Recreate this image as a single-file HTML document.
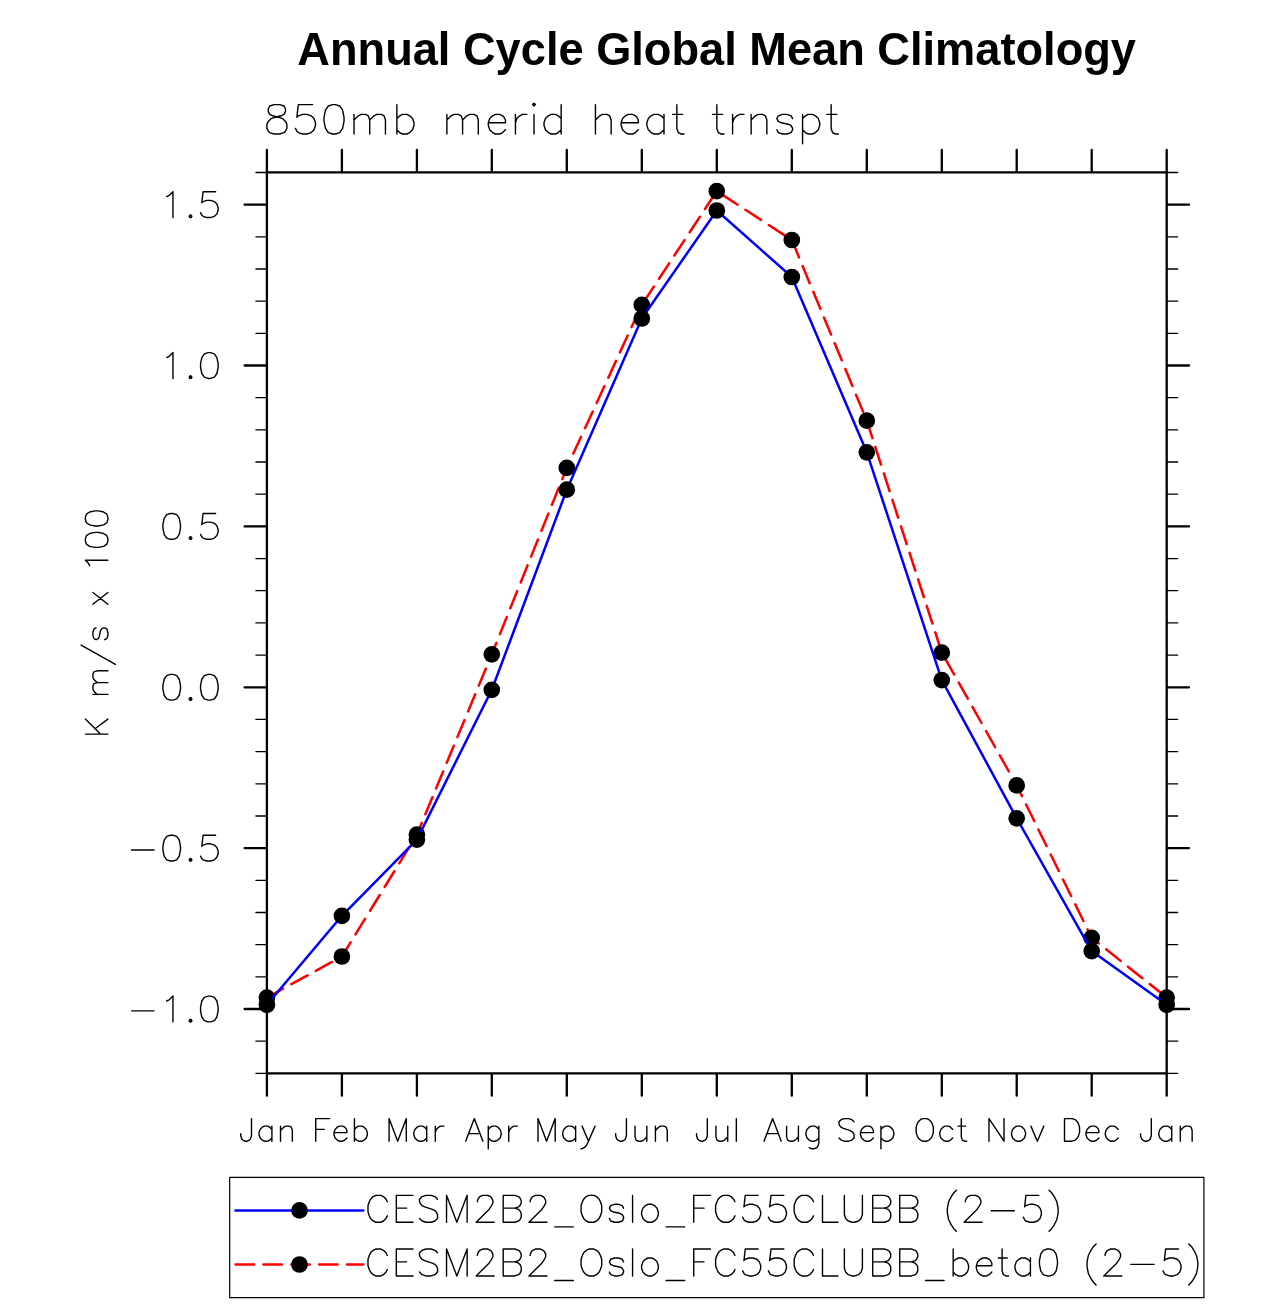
<!DOCTYPE html>
<html><head><meta charset="utf-8"><title>Annual Cycle Global Mean Climatology</title>
<style>html,body{margin:0;padding:0;background:#fff}body{width:1285px;height:1304px;overflow:hidden}svg{display:block;will-change:transform}.t{font-family:"Liberation Sans",sans-serif;font-weight:bold}</style></head><body>
<svg width="1285" height="1304" viewBox="0 0 1285 1304">
<rect width="1285" height="1304" fill="#fff"/>
<text class="t" x="716.65" y="0" font-size="45.2" text-anchor="middle" fill="#000" transform="translate(0 64.8) scale(1 1.03)">Annual Cycle Global Mean Climatology</text>
<path d="M274.03 104.60 L269.74 106.00 L268.31 108.80 L268.31 111.60 L269.74 114.40 L272.60 115.80 L278.31 117.20 L282.60 118.60 L285.46 121.40 L286.88 124.20 L286.88 128.40 L285.46 131.20 L284.03 132.60 L279.74 134.00 L274.03 134.00 L269.74 132.60 L268.31 131.20 L266.89 128.40 L266.89 124.20 L268.31 121.40 L271.17 118.60 L275.46 117.20 L281.17 115.80 L284.03 114.40 L285.46 111.60 L285.46 108.80 L284.03 106.00 L279.74 104.60 L274.03 104.60 M312.60 104.60 L298.31 104.60 L296.88 117.20 L298.31 115.80 L302.60 114.40 L306.88 114.40 L311.17 115.80 L314.03 118.60 L315.45 122.80 L315.45 125.60 L314.03 129.80 L311.17 132.60 L306.88 134.00 L302.60 134.00 L298.31 132.60 L296.88 131.20 L295.46 128.40 M332.60 104.60 L328.31 106.00 L325.45 110.20 L324.03 117.20 L324.03 121.40 L325.45 128.40 L328.31 132.60 L332.60 134.00 L335.45 134.00 L339.74 132.60 L342.60 128.40 L344.02 121.40 L344.02 117.20 L342.60 110.20 L339.74 106.00 L335.45 104.60 L332.60 104.60 M354.02 114.40 L354.02 134.00 M354.02 120.00 L358.31 115.80 L361.17 114.40 L365.45 114.40 L368.31 115.80 L369.74 120.00 L369.74 134.00 M369.74 120.00 L374.02 115.80 L376.88 114.40 L381.17 114.40 L384.02 115.80 L385.45 120.00 L385.45 134.00 M396.88 104.60 L396.88 134.00 M396.88 118.60 L399.74 115.80 L402.59 114.40 L406.88 114.40 L409.74 115.80 L412.59 118.60 L414.02 122.80 L414.02 125.60 L412.59 129.80 L409.74 132.60 L406.88 134.00 L402.59 134.00 L399.74 132.60 L396.88 129.80 M446.88 114.40 L446.88 134.00 M446.88 120.00 L451.16 115.80 L454.02 114.40 L458.30 114.40 L461.16 115.80 L462.59 120.00 L462.59 134.00 M462.59 120.00 L466.88 115.80 L469.73 114.40 L474.02 114.40 L476.88 115.80 L478.30 120.00 L478.30 134.00 M488.30 122.80 L505.45 122.80 L505.45 120.00 L504.02 117.20 L502.59 115.80 L499.73 114.40 L495.45 114.40 L492.59 115.80 L489.73 118.60 L488.30 122.80 L488.30 125.60 L489.73 129.80 L492.59 132.60 L495.45 134.00 L499.73 134.00 L502.59 132.60 L505.45 129.80 M515.44 114.40 L515.44 134.00 M515.44 122.80 L516.87 118.60 L519.73 115.80 L522.59 114.40 L526.87 114.40 M532.59 104.60 L534.02 106.00 L535.44 104.60 L534.02 103.20 L532.59 104.60 M534.02 114.40 L534.02 134.00 M561.16 104.60 L561.16 134.00 M561.16 118.60 L558.30 115.80 L555.44 114.40 L551.16 114.40 L548.30 115.80 L545.44 118.60 L544.01 122.80 L544.01 125.60 L545.44 129.80 L548.30 132.60 L551.16 134.00 L555.44 134.00 L558.30 132.60 L561.16 129.80 M595.44 104.60 L595.44 134.00 M595.44 120.00 L599.73 115.80 L602.58 114.40 L606.87 114.40 L609.73 115.80 L611.15 120.00 L611.15 134.00 M621.15 122.80 L638.30 122.80 L638.30 120.00 L636.87 117.20 L635.44 115.80 L632.58 114.40 L628.30 114.40 L625.44 115.80 L622.58 118.60 L621.15 122.80 L621.15 125.60 L622.58 129.80 L625.44 132.60 L628.30 134.00 L632.58 134.00 L635.44 132.60 L638.30 129.80 M664.01 114.40 L664.01 134.00 M664.01 118.60 L661.15 115.80 L658.29 114.40 L654.01 114.40 L651.15 115.80 L648.29 118.60 L646.87 122.80 L646.87 125.60 L648.29 129.80 L651.15 132.60 L654.01 134.00 L658.29 134.00 L661.15 132.60 L664.01 129.80 M676.86 104.60 L676.86 128.40 L678.29 132.60 L681.15 134.00 L684.01 134.00 M672.58 114.40 L682.58 114.40 M716.86 104.60 L716.86 128.40 L718.29 132.60 L721.15 134.00 L724.01 134.00 M712.58 114.40 L722.58 114.40 M732.58 114.40 L732.58 134.00 M732.58 122.80 L734.00 118.60 L736.86 115.80 L739.72 114.40 L744.00 114.40 M751.15 114.40 L751.15 134.00 M751.15 120.00 L755.43 115.80 L758.29 114.40 L762.58 114.40 L765.43 115.80 L766.86 120.00 L766.86 134.00 M792.57 118.60 L791.14 115.80 L786.86 114.40 L782.57 114.40 L778.29 115.80 L776.86 118.60 L778.29 121.40 L781.15 122.80 L788.29 124.20 L791.14 125.60 L792.57 128.40 L792.57 129.80 L791.14 132.60 L786.86 134.00 L782.57 134.00 L778.29 132.60 L776.86 129.80 M802.57 114.40 L802.57 143.80 M802.57 118.60 L805.43 115.80 L808.29 114.40 L812.57 114.40 L815.43 115.80 L818.29 118.60 L819.71 122.80 L819.71 125.60 L818.29 129.80 L815.43 132.60 L812.57 134.00 L808.29 134.00 L805.43 132.60 L802.57 129.80 M831.14 104.60 L831.14 128.40 L832.57 132.60 L835.43 134.00 L838.29 134.00 M826.86 114.40 L836.86 114.40" fill="none" stroke="#000" stroke-width="1.4" stroke-linecap="round" stroke-linejoin="round"/>
<circle cx="190.53" cy="216.34" r="1.19" fill="none" stroke="#000" stroke-width="1.35"/>
<path d="M166.68 196.66 L169.19 195.43 L172.96 191.74 L172.96 217.56 M190.53 215.10 L189.27 216.34 L190.53 217.56 L191.78 216.34 L190.53 215.10 M215.62 191.74 L203.08 191.74 L201.82 202.81 L203.08 201.57 L206.84 200.34 L210.61 200.34 L214.37 201.57 L216.88 204.03 L218.14 207.72 L218.14 210.19 L216.88 213.88 L214.37 216.34 L210.61 217.56 L206.84 217.56 L203.08 216.34 L201.82 215.10 L200.56 212.65" fill="none" stroke="#000" stroke-width="1.4" stroke-linecap="round" stroke-linejoin="round"/>
<circle cx="190.53" cy="377.20" r="1.19" fill="none" stroke="#000" stroke-width="1.35"/>
<path d="M166.68 357.52 L169.19 356.30 L172.96 352.61 L172.96 378.44 M190.53 375.98 L189.27 377.20 L190.53 378.44 L191.78 377.20 L190.53 375.98 M208.09 352.61 L204.33 353.83 L201.82 357.52 L200.56 363.68 L200.56 367.37 L201.82 373.51 L204.33 377.20 L208.09 378.44 L210.61 378.44 L214.37 377.20 L216.88 373.51 L218.14 367.37 L218.14 363.68 L216.88 357.52 L214.37 353.83 L210.61 352.61 L208.09 352.61" fill="none" stroke="#000" stroke-width="1.4" stroke-linecap="round" stroke-linejoin="round"/>
<circle cx="190.53" cy="538.07" r="1.19" fill="none" stroke="#000" stroke-width="1.35"/>
<path d="M170.44 513.47 L166.68 514.70 L164.17 518.39 L162.91 524.54 L162.91 528.23 L164.17 534.38 L166.68 538.07 L170.44 539.30 L172.96 539.30 L176.72 538.07 L179.23 534.38 L180.49 528.23 L180.49 524.54 L179.23 518.39 L176.72 514.70 L172.96 513.47 L170.44 513.47 M190.53 536.84 L189.27 538.07 L190.53 539.30 L191.78 538.07 L190.53 536.84 M215.62 513.47 L203.08 513.47 L201.82 524.54 L203.08 523.31 L206.84 522.08 L210.61 522.08 L214.37 523.31 L216.88 525.77 L218.14 529.46 L218.14 531.92 L216.88 535.61 L214.37 538.07 L210.61 539.30 L206.84 539.30 L203.08 538.07 L201.82 536.84 L200.56 534.38" fill="none" stroke="#000" stroke-width="1.4" stroke-linecap="round" stroke-linejoin="round"/>
<circle cx="190.53" cy="698.94" r="1.19" fill="none" stroke="#000" stroke-width="1.35"/>
<path d="M170.44 674.34 L166.68 675.57 L164.17 679.26 L162.91 685.41 L162.91 689.10 L164.17 695.25 L166.68 698.94 L170.44 700.17 L172.96 700.17 L176.72 698.94 L179.23 695.25 L180.49 689.10 L180.49 685.41 L179.23 679.26 L176.72 675.57 L172.96 674.34 L170.44 674.34 M190.53 697.71 L189.27 698.94 L190.53 700.17 L191.78 698.94 L190.53 697.71 M208.09 674.34 L204.33 675.57 L201.82 679.26 L200.56 685.41 L200.56 689.10 L201.82 695.25 L204.33 698.94 L208.09 700.17 L210.61 700.17 L214.37 698.94 L216.88 695.25 L218.14 689.10 L218.14 685.41 L216.88 679.26 L214.37 675.57 L210.61 674.34 L208.09 674.34" fill="none" stroke="#000" stroke-width="1.4" stroke-linecap="round" stroke-linejoin="round"/>
<circle cx="190.53" cy="859.81" r="1.19" fill="none" stroke="#000" stroke-width="1.35"/>
<path d="M131.54 849.97 L154.13 849.97 M170.44 835.21 L166.68 836.44 L164.17 840.13 L162.91 846.28 L162.91 849.97 L164.17 856.12 L166.68 859.81 L170.44 861.04 L172.96 861.04 L176.72 859.81 L179.23 856.12 L180.49 849.97 L180.49 846.28 L179.23 840.13 L176.72 836.44 L172.96 835.21 L170.44 835.21 M190.53 858.58 L189.27 859.81 L190.53 861.04 L191.78 859.81 L190.53 858.58 M215.62 835.21 L203.08 835.21 L201.82 846.28 L203.08 845.05 L206.84 843.82 L210.61 843.82 L214.37 845.05 L216.88 847.51 L218.14 851.20 L218.14 853.66 L216.88 857.35 L214.37 859.81 L210.61 861.04 L206.84 861.04 L203.08 859.81 L201.82 858.58 L200.56 856.12" fill="none" stroke="#000" stroke-width="1.4" stroke-linecap="round" stroke-linejoin="round"/>
<circle cx="190.53" cy="1020.68" r="1.19" fill="none" stroke="#000" stroke-width="1.35"/>
<path d="M131.54 1010.84 L154.13 1010.84 M166.68 1001.00 L169.19 999.77 L172.96 996.08 L172.96 1021.91 M190.53 1019.45 L189.27 1020.68 L190.53 1021.91 L191.78 1020.68 L190.53 1019.45 M208.09 996.08 L204.33 997.31 L201.82 1001.00 L200.56 1007.15 L200.56 1010.84 L201.82 1017.00 L204.33 1020.68 L208.09 1021.91 L210.61 1021.91 L214.37 1020.68 L216.88 1017.00 L218.14 1010.84 L218.14 1007.15 L216.88 1001.00 L214.37 997.31 L210.61 996.08 L208.09 996.08" fill="none" stroke="#000" stroke-width="1.4" stroke-linecap="round" stroke-linejoin="round"/>
<path d="M251.50 1118.62 L251.50 1135.83 L250.42 1139.05 L249.35 1140.12 L247.20 1141.20 L245.05 1141.20 L242.90 1140.12 L241.82 1139.05 L240.75 1135.83 L240.75 1133.67 M271.92 1126.15 L271.92 1141.20 M271.92 1129.38 L269.77 1127.23 L267.62 1126.15 L264.40 1126.15 L262.25 1127.23 L260.10 1129.38 L259.02 1132.60 L259.02 1134.75 L260.10 1137.98 L262.25 1140.12 L264.40 1141.20 L267.62 1141.20 L269.77 1140.12 L271.92 1137.98 M280.52 1126.15 L280.52 1141.20 M280.52 1130.45 L283.75 1127.23 L285.90 1126.15 L289.12 1126.15 L291.27 1127.23 L292.35 1130.45 L292.35 1141.20" fill="none" stroke="#000" stroke-width="1.4" stroke-linecap="round" stroke-linejoin="round"/>
<path d="M315.73 1118.62 L315.73 1141.20 M315.73 1118.62 L329.71 1118.62 M315.73 1129.38 L324.33 1129.38 M334.01 1132.60 L346.91 1132.60 L346.91 1130.45 L345.83 1128.30 L344.76 1127.23 L342.61 1126.15 L339.38 1126.15 L337.23 1127.23 L335.08 1129.38 L334.01 1132.60 L334.01 1134.75 L335.08 1137.98 L337.23 1140.12 L339.38 1141.20 L342.61 1141.20 L344.76 1140.12 L346.91 1137.98 M354.43 1118.62 L354.43 1141.20 M354.43 1129.38 L356.58 1127.23 L358.73 1126.15 L361.96 1126.15 L364.11 1127.23 L366.26 1129.38 L367.33 1132.60 L367.33 1134.75 L366.26 1137.98 L364.11 1140.12 L361.96 1141.20 L358.73 1141.20 L356.58 1140.12 L354.43 1137.98" fill="none" stroke="#000" stroke-width="1.4" stroke-linecap="round" stroke-linejoin="round"/>
<path d="M389.10 1118.62 L389.10 1141.20 M389.10 1118.62 L397.70 1141.20 M406.30 1118.62 L397.70 1141.20 M406.30 1118.62 L406.30 1141.20 M426.73 1126.15 L426.73 1141.20 M426.73 1129.38 L424.58 1127.23 L422.43 1126.15 L419.20 1126.15 L417.05 1127.23 L414.90 1129.38 L413.83 1132.60 L413.83 1134.75 L414.90 1137.98 L417.05 1140.12 L419.20 1141.20 L422.43 1141.20 L424.58 1140.12 L426.73 1137.98 M435.33 1126.15 L435.33 1141.20 M435.33 1132.60 L436.40 1129.38 L438.55 1127.23 L440.70 1126.15 L443.93 1126.15" fill="none" stroke="#000" stroke-width="1.4" stroke-linecap="round" stroke-linejoin="round"/>
<path d="M474.30 1118.62 L465.70 1141.20 M474.30 1118.62 L482.90 1141.20 M468.92 1133.67 L479.67 1133.67 M488.27 1126.15 L488.27 1148.73 M488.27 1129.38 L490.42 1127.23 L492.57 1126.15 L495.80 1126.15 L497.95 1127.23 L500.10 1129.38 L501.17 1132.60 L501.17 1134.75 L500.10 1137.98 L497.95 1140.12 L495.80 1141.20 L492.57 1141.20 L490.42 1140.12 L488.27 1137.98 M508.70 1126.15 L508.70 1141.20 M508.70 1132.60 L509.77 1129.38 L511.92 1127.23 L514.07 1126.15 L517.30 1126.15" fill="none" stroke="#000" stroke-width="1.4" stroke-linecap="round" stroke-linejoin="round"/>
<path d="M538.00 1118.62 L538.00 1141.20 M538.00 1118.62 L546.60 1141.20 M555.20 1118.62 L546.60 1141.20 M555.20 1118.62 L555.20 1141.20 M575.62 1126.15 L575.62 1141.20 M575.62 1129.38 L573.47 1127.23 L571.32 1126.15 L568.10 1126.15 L565.95 1127.23 L563.80 1129.38 L562.72 1132.60 L562.72 1134.75 L563.80 1137.98 L565.95 1140.12 L568.10 1141.20 L571.32 1141.20 L573.47 1140.12 L575.62 1137.98 M582.07 1126.15 L588.52 1141.20 M594.97 1126.15 L588.52 1141.20 L586.37 1145.50 L584.22 1147.65 L582.07 1148.73 L581.00 1148.73" fill="none" stroke="#000" stroke-width="1.4" stroke-linecap="round" stroke-linejoin="round"/>
<path d="M626.42 1118.62 L626.42 1135.83 L625.34 1139.05 L624.27 1140.12 L622.12 1141.20 L619.97 1141.20 L617.82 1140.12 L616.74 1139.05 L615.67 1135.83 L615.67 1133.67 M635.02 1126.15 L635.02 1136.90 L636.09 1140.12 L638.24 1141.20 L641.47 1141.20 L643.62 1140.12 L646.84 1136.90 M646.84 1126.15 L646.84 1141.20 M655.44 1126.15 L655.44 1141.20 M655.44 1130.45 L658.67 1127.23 L660.82 1126.15 L664.04 1126.15 L666.19 1127.23 L667.27 1130.45 L667.27 1141.20" fill="none" stroke="#000" stroke-width="1.4" stroke-linecap="round" stroke-linejoin="round"/>
<path d="M707.31 1118.62 L707.31 1135.83 L706.24 1139.05 L705.16 1140.12 L703.01 1141.20 L700.86 1141.20 L698.71 1140.12 L697.64 1139.05 L696.56 1135.83 L696.56 1133.67 M715.91 1126.15 L715.91 1136.90 L716.99 1140.12 L719.14 1141.20 L722.36 1141.20 L724.51 1140.12 L727.74 1136.90 M727.74 1126.15 L727.74 1141.20 M736.34 1118.62 L736.34 1141.20" fill="none" stroke="#000" stroke-width="1.4" stroke-linecap="round" stroke-linejoin="round"/>
<path d="M772.62 1118.62 L764.02 1141.20 M772.62 1118.62 L781.22 1141.20 M767.25 1133.67 L778.00 1133.67 M786.60 1126.15 L786.60 1136.90 L787.67 1140.12 L789.82 1141.20 L793.05 1141.20 L795.20 1140.12 L798.42 1136.90 M798.42 1126.15 L798.42 1141.20 M818.85 1126.15 L818.85 1143.35 L817.77 1146.58 L816.70 1147.65 L814.55 1148.73 L811.32 1148.73 L809.17 1147.65 M818.85 1129.38 L816.70 1127.23 L814.55 1126.15 L811.32 1126.15 L809.17 1127.23 L807.02 1129.38 L805.95 1132.60 L805.95 1134.75 L807.02 1137.98 L809.17 1140.12 L811.32 1141.20 L814.55 1141.20 L816.70 1140.12 L818.85 1137.98" fill="none" stroke="#000" stroke-width="1.4" stroke-linecap="round" stroke-linejoin="round"/>
<path d="M854.05 1121.85 L851.90 1119.70 L848.68 1118.62 L844.38 1118.62 L841.15 1119.70 L839.00 1121.85 L839.00 1124.00 L840.08 1126.15 L841.15 1127.23 L843.30 1128.30 L849.75 1130.45 L851.90 1131.53 L852.98 1132.60 L854.05 1134.75 L854.05 1137.98 L851.90 1140.12 L848.68 1141.20 L844.38 1141.20 L841.15 1140.12 L839.00 1137.98 M860.50 1132.60 L873.40 1132.60 L873.40 1130.45 L872.33 1128.30 L871.25 1127.23 L869.10 1126.15 L865.88 1126.15 L863.73 1127.23 L861.58 1129.38 L860.50 1132.60 L860.50 1134.75 L861.58 1137.98 L863.73 1140.12 L865.88 1141.20 L869.10 1141.20 L871.25 1140.12 L873.40 1137.98 M880.93 1126.15 L880.93 1148.73 M880.93 1129.38 L883.08 1127.23 L885.23 1126.15 L888.45 1126.15 L890.60 1127.23 L892.75 1129.38 L893.83 1132.60 L893.83 1134.75 L892.75 1137.98 L890.60 1140.12 L888.45 1141.20 L885.23 1141.20 L883.08 1140.12 L880.93 1137.98" fill="none" stroke="#000" stroke-width="1.4" stroke-linecap="round" stroke-linejoin="round"/>
<path d="M922.59 1118.62 L920.44 1119.70 L918.29 1121.85 L917.21 1124.00 L916.14 1127.23 L916.14 1132.60 L917.21 1135.83 L918.29 1137.98 L920.44 1140.12 L922.59 1141.20 L926.89 1141.20 L929.04 1140.12 L931.19 1137.98 L932.26 1135.83 L933.34 1132.60 L933.34 1127.23 L932.26 1124.00 L931.19 1121.85 L929.04 1119.70 L926.89 1118.62 L922.59 1118.62 M952.69 1129.38 L950.54 1127.23 L948.39 1126.15 L945.16 1126.15 L943.01 1127.23 L940.86 1129.38 L939.79 1132.60 L939.79 1134.75 L940.86 1137.98 L943.01 1140.12 L945.16 1141.20 L948.39 1141.20 L950.54 1140.12 L952.69 1137.98 M961.29 1118.62 L961.29 1136.90 L962.36 1140.12 L964.51 1141.20 L966.66 1141.20 M958.06 1126.15 L965.59 1126.15" fill="none" stroke="#000" stroke-width="1.4" stroke-linecap="round" stroke-linejoin="round"/>
<path d="M988.97 1118.62 L988.97 1141.20 M988.97 1118.62 L1004.02 1141.20 M1004.02 1118.62 L1004.02 1141.20 M1016.92 1126.15 L1014.77 1127.23 L1012.62 1129.38 L1011.55 1132.60 L1011.55 1134.75 L1012.62 1137.98 L1014.77 1140.12 L1016.92 1141.20 L1020.15 1141.20 L1022.30 1140.12 L1024.45 1137.98 L1025.52 1134.75 L1025.52 1132.60 L1024.45 1129.38 L1022.30 1127.23 L1020.15 1126.15 L1016.92 1126.15 M1030.90 1126.15 L1037.35 1141.20 M1043.80 1126.15 L1037.35 1141.20" fill="none" stroke="#000" stroke-width="1.4" stroke-linecap="round" stroke-linejoin="round"/>
<path d="M1064.49 1118.62 L1064.49 1141.20 M1064.49 1118.62 L1072.02 1118.62 L1075.24 1119.70 L1077.39 1121.85 L1078.47 1124.00 L1079.54 1127.23 L1079.54 1132.60 L1078.47 1135.83 L1077.39 1137.98 L1075.24 1140.12 L1072.02 1141.20 L1064.49 1141.20 M1085.99 1132.60 L1098.89 1132.60 L1098.89 1130.45 L1097.82 1128.30 L1096.74 1127.23 L1094.59 1126.15 L1091.37 1126.15 L1089.22 1127.23 L1087.07 1129.38 L1085.99 1132.60 L1085.99 1134.75 L1087.07 1137.98 L1089.22 1140.12 L1091.37 1141.20 L1094.59 1141.20 L1096.74 1140.12 L1098.89 1137.98 M1118.24 1129.38 L1116.09 1127.23 L1113.94 1126.15 L1110.72 1126.15 L1108.57 1127.23 L1106.42 1129.38 L1105.34 1132.60 L1105.34 1134.75 L1106.42 1137.98 L1108.57 1140.12 L1110.72 1141.20 L1113.94 1141.20 L1116.09 1140.12 L1118.24 1137.98" fill="none" stroke="#000" stroke-width="1.4" stroke-linecap="round" stroke-linejoin="round"/>
<path d="M1151.30 1118.62 L1151.30 1135.83 L1150.22 1139.05 L1149.15 1140.12 L1147.00 1141.20 L1144.85 1141.20 L1142.70 1140.12 L1141.62 1139.05 L1140.55 1135.83 L1140.55 1133.67 M1171.72 1126.15 L1171.72 1141.20 M1171.72 1129.38 L1169.57 1127.23 L1167.42 1126.15 L1164.20 1126.15 L1162.05 1127.23 L1159.90 1129.38 L1158.82 1132.60 L1158.82 1134.75 L1159.90 1137.98 L1162.05 1140.12 L1164.20 1141.20 L1167.42 1141.20 L1169.57 1140.12 L1171.72 1137.98 M1180.32 1126.15 L1180.32 1141.20 M1180.32 1130.45 L1183.55 1127.23 L1185.70 1126.15 L1188.92 1126.15 L1191.07 1127.23 L1192.15 1130.45 L1192.15 1141.20" fill="none" stroke="#000" stroke-width="1.4" stroke-linecap="round" stroke-linejoin="round"/>
<path d="M4.29 -22.53 L4.29 0.00 M19.31 -22.53 L4.29 -7.51 M9.66 -12.88 L19.31 0.00 M43.99 -15.02 L43.99 0.00 M43.99 -10.73 L47.21 -13.95 L49.36 -15.02 L52.58 -15.02 L54.72 -13.95 L55.80 -10.73 L55.80 0.00 M55.80 -10.73 L59.01 -13.95 L61.16 -15.02 L64.38 -15.02 L66.53 -13.95 L67.60 -10.73 L67.60 0.00 M93.35 -26.82 L74.04 7.51 M110.52 -11.80 L109.45 -13.95 L106.23 -15.02 L103.01 -15.02 L99.79 -13.95 L98.72 -11.80 L99.79 -9.66 L101.93 -8.58 L107.30 -7.51 L109.45 -6.44 L110.52 -4.29 L110.52 -3.22 L109.45 -1.07 L106.23 0.00 L103.01 0.00 L99.79 -1.07 L98.72 -3.22 M134.12 -15.02 L145.93 0.00 M145.93 -15.02 L134.12 0.00 M172.75 -18.24 L174.90 -19.31 L178.12 -22.53 L178.12 0.00 M197.43 -22.53 L194.21 -21.46 L192.07 -18.24 L190.99 -12.88 L190.99 -9.66 L192.07 -4.29 L194.21 -1.07 L197.43 0.00 L199.58 0.00 L202.80 -1.07 L204.94 -4.29 L206.02 -9.66 L206.02 -12.88 L204.94 -18.24 L202.80 -21.46 L199.58 -22.53 L197.43 -22.53 M218.89 -22.53 L215.67 -21.46 L213.53 -18.24 L212.45 -12.88 L212.45 -9.66 L213.53 -4.29 L215.67 -1.07 L218.89 0.00 L221.04 0.00 L224.26 -1.07 L226.40 -4.29 L227.48 -9.66 L227.48 -12.88 L226.40 -18.24 L224.26 -21.46 L221.04 -22.53 L218.89 -22.53" fill="none" stroke="#000" stroke-width="1.4" stroke-linecap="round" stroke-linejoin="round" transform="translate(107.9 738.4) rotate(-90)"/>
<polyline points="266.9,997.6 341.9,956.5 416.9,834.6 491.8,654.3 566.8,467.8 641.8,304.9 716.8,191.1 791.8,240.0 866.8,420.7 941.8,652.6 1016.7,785.4 1091.7,937.8 1166.7,997.6" fill="none" stroke="#f00" stroke-width="2.5" stroke-dasharray="18.5 9.35" stroke-linecap="round" stroke-linejoin="round"/>
<circle cx="266.9" cy="997.6" r="8.35"/>
<circle cx="341.9" cy="956.5" r="8.35"/>
<circle cx="416.9" cy="834.6" r="8.35"/>
<circle cx="491.8" cy="654.3" r="8.35"/>
<circle cx="566.8" cy="467.8" r="8.35"/>
<circle cx="641.8" cy="304.9" r="8.35"/>
<circle cx="716.8" cy="191.1" r="8.35"/>
<circle cx="791.8" cy="240.0" r="8.35"/>
<circle cx="866.8" cy="420.7" r="8.35"/>
<circle cx="941.8" cy="652.6" r="8.35"/>
<circle cx="1016.7" cy="785.4" r="8.35"/>
<circle cx="1091.7" cy="937.8" r="8.35"/>
<circle cx="1166.7" cy="997.6" r="8.35"/>
<polyline points="266.9,1004.8 341.9,915.8 416.9,839.6 491.8,689.8 566.8,489.7 641.8,318.5 716.8,210.5 791.8,277.0 866.8,452.3 941.8,680.1 1016.7,818.3 1091.7,951.1 1166.7,1004.8" fill="none" stroke="#00f" stroke-width="2.5" stroke-linejoin="round"/>
<circle cx="266.9" cy="1004.8" r="8.35"/>
<circle cx="341.9" cy="915.8" r="8.35"/>
<circle cx="416.9" cy="839.6" r="8.35"/>
<circle cx="491.8" cy="689.8" r="8.35"/>
<circle cx="566.8" cy="489.7" r="8.35"/>
<circle cx="641.8" cy="318.5" r="8.35"/>
<circle cx="716.8" cy="210.5" r="8.35"/>
<circle cx="791.8" cy="277.0" r="8.35"/>
<circle cx="866.8" cy="452.3" r="8.35"/>
<circle cx="941.8" cy="680.1" r="8.35"/>
<circle cx="1016.7" cy="818.3" r="8.35"/>
<circle cx="1091.7" cy="951.1" r="8.35"/>
<circle cx="1166.7" cy="1004.8" r="8.35"/>
<path d="M266.9 172.3 H1166.7 V1073.4 H266.9 Z M266.9 172.3 V150.0 M266.9 1073.4 V1095.7 M341.9 172.3 V150.0 M341.9 1073.4 V1095.7 M416.9 172.3 V150.0 M416.9 1073.4 V1095.7 M491.8 172.3 V150.0 M491.8 1073.4 V1095.7 M566.8 172.3 V150.0 M566.8 1073.4 V1095.7 M641.8 172.3 V150.0 M641.8 1073.4 V1095.7 M716.8 172.3 V150.0 M716.8 1073.4 V1095.7 M791.8 172.3 V150.0 M791.8 1073.4 V1095.7 M866.8 172.3 V150.0 M866.8 1073.4 V1095.7 M941.8 172.3 V150.0 M941.8 1073.4 V1095.7 M1016.7 172.3 V150.0 M1016.7 1073.4 V1095.7 M1091.7 172.3 V150.0 M1091.7 1073.4 V1095.7 M1166.7 172.3 V150.0 M1166.7 1073.4 V1095.7 M266.9 204.7 H244.6 M1166.7 204.7 H1189.0 M266.9 365.5 H244.6 M1166.7 365.5 H1189.0 M266.9 526.4 H244.6 M1166.7 526.4 H1189.0 M266.9 687.3 H244.6 M1166.7 687.3 H1189.0 M266.9 848.1 H244.6 M1166.7 848.1 H1189.0 M266.9 1009.0 H244.6 M1166.7 1009.0 H1189.0" fill="none" stroke="#000" stroke-width="2.3" stroke-linecap="round"/>
<path d="M266.9 1073.3 H255.9 M1166.7 1073.3 H1177.7 M266.9 1041.2 H255.9 M1166.7 1041.2 H1177.7 M266.9 976.8 H255.9 M1166.7 976.8 H1177.7 M266.9 944.7 H255.9 M1166.7 944.7 H1177.7 M266.9 912.5 H255.9 M1166.7 912.5 H1177.7 M266.9 880.3 H255.9 M1166.7 880.3 H1177.7 M266.9 816.0 H255.9 M1166.7 816.0 H1177.7 M266.9 783.8 H255.9 M1166.7 783.8 H1177.7 M266.9 751.6 H255.9 M1166.7 751.6 H1177.7 M266.9 719.4 H255.9 M1166.7 719.4 H1177.7 M266.9 655.1 H255.9 M1166.7 655.1 H1177.7 M266.9 622.9 H255.9 M1166.7 622.9 H1177.7 M266.9 590.7 H255.9 M1166.7 590.7 H1177.7 M266.9 558.6 H255.9 M1166.7 558.6 H1177.7 M266.9 494.2 H255.9 M1166.7 494.2 H1177.7 M266.9 462.0 H255.9 M1166.7 462.0 H1177.7 M266.9 429.9 H255.9 M1166.7 429.9 H1177.7 M266.9 397.7 H255.9 M1166.7 397.7 H1177.7 M266.9 333.3 H255.9 M1166.7 333.3 H1177.7 M266.9 301.2 H255.9 M1166.7 301.2 H1177.7 M266.9 269.0 H255.9 M1166.7 269.0 H1177.7 M266.9 236.8 H255.9 M1166.7 236.8 H1177.7 M266.9 172.5 H255.9 M1166.7 172.5 H1177.7" fill="none" stroke="#000" stroke-width="1.3" stroke-linecap="round"/>
<rect x="229.7" y="1177.3" width="974.2" height="120.4" fill="none" stroke="#000" stroke-width="1.2" stroke-linejoin="round"/>
<path d="M235.55 1210.4 H363.25" stroke="#00f" stroke-width="2.5" fill="none" stroke-linecap="round"/>
<path d="M235.55 1264.5 H363.25" stroke="#f00" stroke-width="2.5" fill="none" stroke-dasharray="18.5 9.35" stroke-linecap="round"/>
<circle cx="299.5" cy="1210.4" r="8.35"/><circle cx="299.5" cy="1264.5" r="8.35"/>
<path d="M387.31 1201.74 L386.02 1199.17 L383.45 1196.61 L380.88 1195.33 L375.72 1195.33 L373.15 1196.61 L370.57 1199.17 L369.29 1201.74 L368.00 1205.58 L368.00 1211.99 L369.29 1215.84 L370.57 1218.40 L373.15 1220.97 L375.72 1222.25 L380.88 1222.25 L383.45 1220.97 L386.02 1218.40 L387.31 1215.84 M396.32 1195.33 L396.32 1222.25 M396.32 1195.33 L413.06 1195.33 M396.32 1208.15 L406.62 1208.15 M396.32 1222.25 L413.06 1222.25 M437.52 1199.17 L434.95 1196.61 L431.09 1195.33 L425.94 1195.33 L422.07 1196.61 L419.50 1199.17 L419.50 1201.74 L420.79 1204.30 L422.07 1205.58 L424.65 1206.87 L432.38 1209.43 L434.95 1210.71 L436.24 1211.99 L437.52 1214.56 L437.52 1218.40 L434.95 1220.97 L431.09 1222.25 L425.94 1222.25 L422.07 1220.97 L419.50 1218.40 M446.54 1195.33 L446.54 1222.25 M446.54 1195.33 L456.84 1222.25 M467.14 1195.33 L456.84 1222.25 M467.14 1195.33 L467.14 1222.25 M477.44 1201.74 L477.44 1200.46 L478.72 1197.89 L480.01 1196.61 L482.59 1195.33 L487.74 1195.33 L490.31 1196.61 L491.60 1197.89 L492.89 1200.46 L492.89 1203.02 L491.60 1205.58 L489.02 1209.43 L476.15 1222.25 L494.17 1222.25 M503.19 1195.33 L503.19 1222.25 M503.19 1195.33 L514.77 1195.33 L518.64 1196.61 L519.92 1197.89 L521.21 1200.46 L521.21 1203.02 L519.92 1205.58 L518.64 1206.87 L514.77 1208.15 M503.19 1208.15 L514.77 1208.15 L518.64 1209.43 L519.92 1210.71 L521.21 1213.28 L521.21 1217.12 L519.92 1219.69 L518.64 1220.97 L514.77 1222.25 L503.19 1222.25 M530.22 1201.74 L530.22 1200.46 L531.51 1197.89 L532.80 1196.61 L535.37 1195.33 L540.52 1195.33 L543.10 1196.61 L544.39 1197.89 L545.67 1200.46 L545.67 1203.02 L544.39 1205.58 L541.81 1209.43 L528.94 1222.25 L546.96 1222.25 M554.69 1226.87 L573.36 1226.87 M588.81 1195.33 L586.23 1196.61 L583.66 1199.17 L582.37 1201.74 L581.08 1205.58 L581.08 1211.99 L582.37 1215.84 L583.66 1218.40 L586.23 1220.97 L588.81 1222.25 L593.96 1222.25 L596.53 1220.97 L599.11 1218.40 L600.39 1215.84 L601.68 1211.99 L601.68 1205.58 L600.39 1201.74 L599.11 1199.17 L596.53 1196.61 L593.96 1195.33 L588.81 1195.33 M623.57 1208.15 L622.28 1205.58 L618.42 1204.30 L614.56 1204.30 L610.69 1205.58 L609.41 1208.15 L610.69 1210.71 L613.27 1211.99 L619.71 1213.28 L622.28 1214.56 L623.57 1217.12 L623.57 1218.40 L622.28 1220.97 L618.42 1222.25 L614.56 1222.25 L610.69 1220.97 L609.41 1218.40 M632.58 1195.33 L632.58 1222.25 M648.03 1204.30 L645.46 1205.58 L642.88 1208.15 L641.59 1211.99 L641.59 1214.56 L642.88 1218.40 L645.46 1220.97 L648.03 1222.25 L651.89 1222.25 L654.47 1220.97 L657.04 1218.40 L658.33 1214.56 L658.33 1211.99 L657.04 1208.15 L654.47 1205.58 L651.89 1204.30 L648.03 1204.30 M666.06 1226.87 L684.72 1226.87 M693.74 1195.33 L693.74 1222.25 M693.74 1195.33 L710.47 1195.33 M693.74 1208.15 L704.04 1208.15 M734.94 1201.74 L733.65 1199.17 L731.07 1196.61 L728.50 1195.33 L723.35 1195.33 L720.77 1196.61 L718.20 1199.17 L716.91 1201.74 L715.62 1205.58 L715.62 1211.99 L716.91 1215.84 L718.20 1218.40 L720.77 1220.97 L723.35 1222.25 L728.50 1222.25 L731.07 1220.97 L733.65 1218.40 L734.94 1215.84 M758.11 1195.33 L745.24 1195.33 L743.95 1206.87 L745.24 1205.58 L749.10 1204.30 L752.96 1204.30 L756.82 1205.58 L759.40 1208.15 L760.69 1211.99 L760.69 1214.56 L759.40 1218.40 L756.82 1220.97 L752.96 1222.25 L749.10 1222.25 L745.24 1220.97 L743.95 1219.69 L742.66 1217.12 M783.86 1195.33 L770.99 1195.33 L769.70 1206.87 L770.99 1205.58 L774.85 1204.30 L778.71 1204.30 L782.57 1205.58 L785.15 1208.15 L786.44 1211.99 L786.44 1214.56 L785.15 1218.40 L782.57 1220.97 L778.71 1222.25 L774.85 1222.25 L770.99 1220.97 L769.70 1219.69 L768.41 1217.12 M813.47 1201.74 L812.19 1199.17 L809.61 1196.61 L807.04 1195.33 L801.89 1195.33 L799.31 1196.61 L796.74 1199.17 L795.45 1201.74 L794.16 1205.58 L794.16 1211.99 L795.45 1215.84 L796.74 1218.40 L799.31 1220.97 L801.89 1222.25 L807.04 1222.25 L809.61 1220.97 L812.19 1218.40 L813.47 1215.84 M822.49 1195.33 L822.49 1222.25 M822.49 1222.25 L837.94 1222.25 M844.37 1195.33 L844.37 1214.56 L845.66 1218.40 L848.24 1220.97 L852.10 1222.25 L854.67 1222.25 L858.54 1220.97 L861.11 1218.40 L862.40 1214.56 L862.40 1195.33 M872.70 1195.33 L872.70 1222.25 M872.70 1195.33 L884.29 1195.33 L888.15 1196.61 L889.44 1197.89 L890.72 1200.46 L890.72 1203.02 L889.44 1205.58 L888.15 1206.87 L884.29 1208.15 M872.70 1208.15 L884.29 1208.15 L888.15 1209.43 L889.44 1210.71 L890.72 1213.28 L890.72 1217.12 L889.44 1219.69 L888.15 1220.97 L884.29 1222.25 L872.70 1222.25 M899.74 1195.33 L899.74 1222.25 M899.74 1195.33 L911.32 1195.33 L915.19 1196.61 L916.48 1197.89 L917.76 1200.46 L917.76 1203.02 L916.48 1205.58 L915.19 1206.87 L911.32 1208.15 M899.74 1208.15 L911.32 1208.15 L915.19 1209.43 L916.48 1210.71 L917.76 1213.28 L917.76 1217.12 L916.48 1219.69 L915.19 1220.97 L911.32 1222.25 L899.74 1222.25 M956.39 1190.20 L953.81 1192.76 L951.24 1196.61 L948.66 1201.74 L947.38 1208.15 L947.38 1213.28 L948.66 1219.69 L951.24 1224.81 L953.81 1228.66 L956.39 1231.22 M965.40 1201.74 L965.40 1200.46 L966.69 1197.89 L967.98 1196.61 L970.55 1195.33 L975.70 1195.33 L978.27 1196.61 L979.56 1197.89 L980.85 1200.46 L980.85 1203.02 L979.56 1205.58 L976.99 1209.43 L964.11 1222.25 L982.14 1222.25 M991.15 1210.71 L1014.33 1210.71 M1038.79 1195.33 L1025.91 1195.33 L1024.62 1206.87 L1025.91 1205.58 L1029.78 1204.30 L1033.64 1204.30 L1037.50 1205.58 L1040.08 1208.15 L1041.36 1211.99 L1041.36 1214.56 L1040.08 1218.40 L1037.50 1220.97 L1033.64 1222.25 L1029.78 1222.25 L1025.91 1220.97 L1024.62 1219.69 L1023.34 1217.12 M1049.09 1190.20 L1051.66 1192.76 L1054.24 1196.61 L1056.81 1201.74 L1058.10 1208.15 L1058.10 1213.28 L1056.81 1219.69 L1054.24 1224.81 L1051.66 1228.66 L1049.09 1231.22" fill="none" stroke="#000" stroke-width="1.4" stroke-linecap="round" stroke-linejoin="round"/>
<path d="M387.31 1255.44 L386.02 1252.87 L383.45 1250.31 L380.88 1249.03 L375.72 1249.03 L373.15 1250.31 L370.57 1252.87 L369.29 1255.44 L368.00 1259.28 L368.00 1265.69 L369.29 1269.54 L370.57 1272.10 L373.15 1274.67 L375.72 1275.95 L380.88 1275.95 L383.45 1274.67 L386.02 1272.10 L387.31 1269.54 M396.32 1249.03 L396.32 1275.95 M396.32 1249.03 L413.06 1249.03 M396.32 1261.85 L406.62 1261.85 M396.32 1275.95 L413.06 1275.95 M437.52 1252.87 L434.95 1250.31 L431.09 1249.03 L425.94 1249.03 L422.07 1250.31 L419.50 1252.87 L419.50 1255.44 L420.79 1258.00 L422.07 1259.28 L424.65 1260.57 L432.38 1263.13 L434.95 1264.41 L436.24 1265.69 L437.52 1268.26 L437.52 1272.10 L434.95 1274.67 L431.09 1275.95 L425.94 1275.95 L422.07 1274.67 L419.50 1272.10 M446.54 1249.03 L446.54 1275.95 M446.54 1249.03 L456.84 1275.95 M467.14 1249.03 L456.84 1275.95 M467.14 1249.03 L467.14 1275.95 M477.44 1255.44 L477.44 1254.16 L478.72 1251.59 L480.01 1250.31 L482.59 1249.03 L487.74 1249.03 L490.31 1250.31 L491.60 1251.59 L492.89 1254.16 L492.89 1256.72 L491.60 1259.28 L489.02 1263.13 L476.15 1275.95 L494.17 1275.95 M503.19 1249.03 L503.19 1275.95 M503.19 1249.03 L514.77 1249.03 L518.64 1250.31 L519.92 1251.59 L521.21 1254.16 L521.21 1256.72 L519.92 1259.28 L518.64 1260.57 L514.77 1261.85 M503.19 1261.85 L514.77 1261.85 L518.64 1263.13 L519.92 1264.41 L521.21 1266.98 L521.21 1270.82 L519.92 1273.39 L518.64 1274.67 L514.77 1275.95 L503.19 1275.95 M530.22 1255.44 L530.22 1254.16 L531.51 1251.59 L532.80 1250.31 L535.37 1249.03 L540.52 1249.03 L543.10 1250.31 L544.39 1251.59 L545.67 1254.16 L545.67 1256.72 L544.39 1259.28 L541.81 1263.13 L528.94 1275.95 L546.96 1275.95 M554.69 1280.57 L573.36 1280.57 M588.81 1249.03 L586.23 1250.31 L583.66 1252.87 L582.37 1255.44 L581.08 1259.28 L581.08 1265.69 L582.37 1269.54 L583.66 1272.10 L586.23 1274.67 L588.81 1275.95 L593.96 1275.95 L596.53 1274.67 L599.11 1272.10 L600.39 1269.54 L601.68 1265.69 L601.68 1259.28 L600.39 1255.44 L599.11 1252.87 L596.53 1250.31 L593.96 1249.03 L588.81 1249.03 M623.57 1261.85 L622.28 1259.28 L618.42 1258.00 L614.56 1258.00 L610.69 1259.28 L609.41 1261.85 L610.69 1264.41 L613.27 1265.69 L619.71 1266.98 L622.28 1268.26 L623.57 1270.82 L623.57 1272.10 L622.28 1274.67 L618.42 1275.95 L614.56 1275.95 L610.69 1274.67 L609.41 1272.10 M632.58 1249.03 L632.58 1275.95 M648.03 1258.00 L645.46 1259.28 L642.88 1261.85 L641.59 1265.69 L641.59 1268.26 L642.88 1272.10 L645.46 1274.67 L648.03 1275.95 L651.89 1275.95 L654.47 1274.67 L657.04 1272.10 L658.33 1268.26 L658.33 1265.69 L657.04 1261.85 L654.47 1259.28 L651.89 1258.00 L648.03 1258.00 M666.06 1280.57 L684.72 1280.57 M693.74 1249.03 L693.74 1275.95 M693.74 1249.03 L710.47 1249.03 M693.74 1261.85 L704.04 1261.85 M734.94 1255.44 L733.65 1252.87 L731.07 1250.31 L728.50 1249.03 L723.35 1249.03 L720.77 1250.31 L718.20 1252.87 L716.91 1255.44 L715.62 1259.28 L715.62 1265.69 L716.91 1269.54 L718.20 1272.10 L720.77 1274.67 L723.35 1275.95 L728.50 1275.95 L731.07 1274.67 L733.65 1272.10 L734.94 1269.54 M758.11 1249.03 L745.24 1249.03 L743.95 1260.57 L745.24 1259.28 L749.10 1258.00 L752.96 1258.00 L756.82 1259.28 L759.40 1261.85 L760.69 1265.69 L760.69 1268.26 L759.40 1272.10 L756.82 1274.67 L752.96 1275.95 L749.10 1275.95 L745.24 1274.67 L743.95 1273.39 L742.66 1270.82 M783.86 1249.03 L770.99 1249.03 L769.70 1260.57 L770.99 1259.28 L774.85 1258.00 L778.71 1258.00 L782.57 1259.28 L785.15 1261.85 L786.44 1265.69 L786.44 1268.26 L785.15 1272.10 L782.57 1274.67 L778.71 1275.95 L774.85 1275.95 L770.99 1274.67 L769.70 1273.39 L768.41 1270.82 M813.47 1255.44 L812.19 1252.87 L809.61 1250.31 L807.04 1249.03 L801.89 1249.03 L799.31 1250.31 L796.74 1252.87 L795.45 1255.44 L794.16 1259.28 L794.16 1265.69 L795.45 1269.54 L796.74 1272.10 L799.31 1274.67 L801.89 1275.95 L807.04 1275.95 L809.61 1274.67 L812.19 1272.10 L813.47 1269.54 M822.49 1249.03 L822.49 1275.95 M822.49 1275.95 L837.94 1275.95 M844.37 1249.03 L844.37 1268.26 L845.66 1272.10 L848.24 1274.67 L852.10 1275.95 L854.67 1275.95 L858.54 1274.67 L861.11 1272.10 L862.40 1268.26 L862.40 1249.03 M872.70 1249.03 L872.70 1275.95 M872.70 1249.03 L884.29 1249.03 L888.15 1250.31 L889.44 1251.59 L890.72 1254.16 L890.72 1256.72 L889.44 1259.28 L888.15 1260.57 L884.29 1261.85 M872.70 1261.85 L884.29 1261.85 L888.15 1263.13 L889.44 1264.41 L890.72 1266.98 L890.72 1270.82 L889.44 1273.39 L888.15 1274.67 L884.29 1275.95 L872.70 1275.95 M899.74 1249.03 L899.74 1275.95 M899.74 1249.03 L911.32 1249.03 L915.19 1250.31 L916.48 1251.59 L917.76 1254.16 L917.76 1256.72 L916.48 1259.28 L915.19 1260.57 L911.32 1261.85 M899.74 1261.85 L911.32 1261.85 L915.19 1263.13 L916.48 1264.41 L917.76 1266.98 L917.76 1270.82 L916.48 1273.39 L915.19 1274.67 L911.32 1275.95 L899.74 1275.95 M925.49 1280.57 L944.16 1280.57 M953.17 1249.03 L953.17 1275.95 M953.17 1261.85 L955.74 1259.28 L958.32 1258.00 L962.18 1258.00 L964.76 1259.28 L967.33 1261.85 L968.62 1265.69 L968.62 1268.26 L967.33 1272.10 L964.76 1274.67 L962.18 1275.95 L958.32 1275.95 L955.74 1274.67 L953.17 1272.10 M976.34 1265.69 L991.79 1265.69 L991.79 1263.13 L990.51 1260.57 L989.22 1259.28 L986.64 1258.00 L982.78 1258.00 L980.21 1259.28 L977.63 1261.85 L976.34 1265.69 L976.34 1268.26 L977.63 1272.10 L980.21 1274.67 L982.78 1275.95 L986.64 1275.95 L989.22 1274.67 L991.79 1272.10 M1002.09 1249.03 L1002.09 1270.82 L1003.38 1274.67 L1005.96 1275.95 L1008.53 1275.95 M998.23 1258.00 L1007.24 1258.00 M1030.42 1258.00 L1030.42 1275.95 M1030.42 1261.85 L1027.84 1259.28 L1025.27 1258.00 L1021.41 1258.00 L1018.83 1259.28 L1016.26 1261.85 L1014.97 1265.69 L1014.97 1268.26 L1016.26 1272.10 L1018.83 1274.67 L1021.41 1275.95 L1025.27 1275.95 L1027.84 1274.67 L1030.42 1272.10 M1047.16 1249.03 L1043.29 1250.31 L1040.72 1254.16 L1039.43 1260.57 L1039.43 1264.41 L1040.72 1270.82 L1043.29 1274.67 L1047.16 1275.95 L1049.73 1275.95 L1053.59 1274.67 L1056.17 1270.82 L1057.46 1264.41 L1057.46 1260.57 L1056.17 1254.16 L1053.59 1250.31 L1049.73 1249.03 L1047.16 1249.03 M1096.08 1243.90 L1093.51 1246.46 L1090.93 1250.31 L1088.36 1255.44 L1087.07 1261.85 L1087.07 1266.98 L1088.36 1273.39 L1090.93 1278.51 L1093.51 1282.36 L1096.08 1284.92 M1105.09 1255.44 L1105.09 1254.16 L1106.38 1251.59 L1107.67 1250.31 L1110.24 1249.03 L1115.39 1249.03 L1117.97 1250.31 L1119.26 1251.59 L1120.54 1254.16 L1120.54 1256.72 L1119.26 1259.28 L1116.68 1263.13 L1103.81 1275.95 L1121.83 1275.95 M1130.84 1264.41 L1154.02 1264.41 M1178.48 1249.03 L1165.61 1249.03 L1164.32 1260.57 L1165.61 1259.28 L1169.47 1258.00 L1173.33 1258.00 L1177.19 1259.28 L1179.77 1261.85 L1181.06 1265.69 L1181.06 1268.26 L1179.77 1272.10 L1177.19 1274.67 L1173.33 1275.95 L1169.47 1275.95 L1165.61 1274.67 L1164.32 1273.39 L1163.03 1270.82 M1188.78 1243.90 L1191.36 1246.46 L1193.93 1250.31 L1196.51 1255.44 L1197.79 1261.85 L1197.79 1266.98 L1196.51 1273.39 L1193.93 1278.51 L1191.36 1282.36 L1188.78 1284.92" fill="none" stroke="#000" stroke-width="1.4" stroke-linecap="round" stroke-linejoin="round"/>
</svg></body></html>
